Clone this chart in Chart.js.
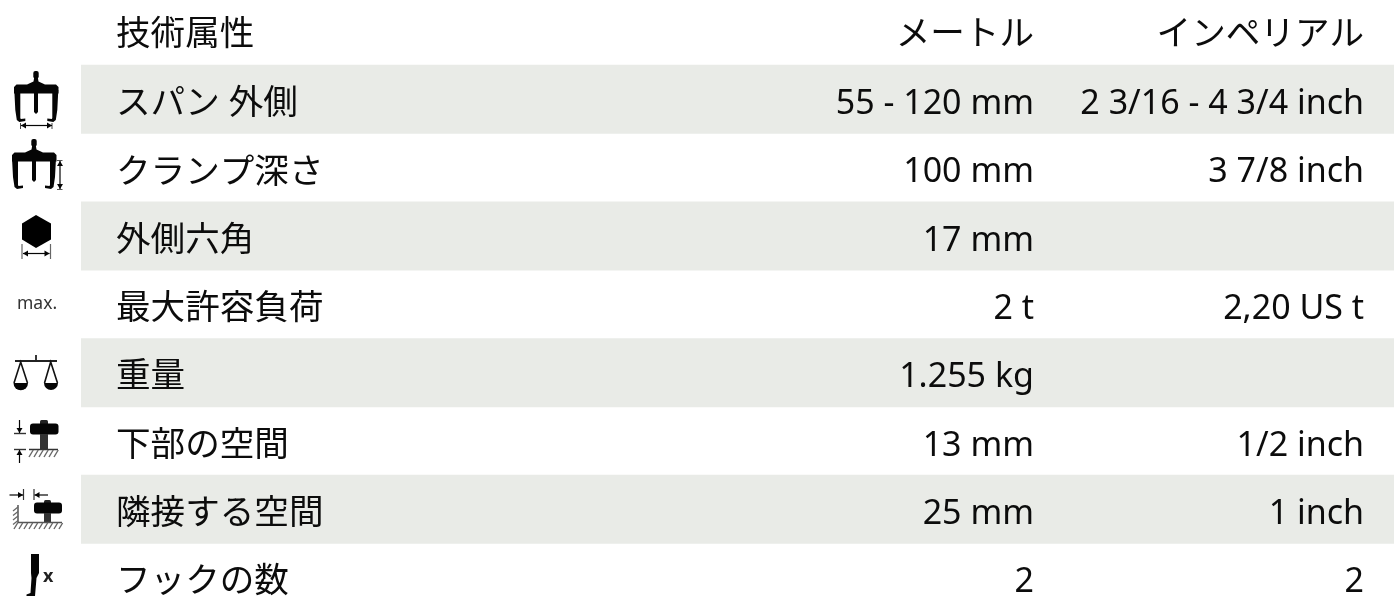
<!DOCTYPE html>
<html>
<head>
<meta charset="utf-8">
<style>
  html, body { margin: 0; background: #fff; overflow: hidden; }
  #wrap { width: 1394px; height: 596px; }
</style>
<script src="https://cdn.jsdelivr.net/npm/chart.js@4"></script>
</head>
<body>
<div id="wrap"><canvas id="table" width="1394" height="596"></canvas></div>
<script>
// header row
const headerName = "技術属性";
const headerMetric = "メートル";
const headerImperial = "インペリアル";

// table rows
const attributes = ["スパン 外側", "クランプ深さ", "外側六角", "最大許容負荷", "重量", "下部の空間", "隣接する空間", "フックの数"];
const metric = ["55 - 120 mm", "100 mm", "17 mm", "2 t", "1.255 kg", "13 mm", "25 mm", "2"];
const imperial = ["2 3/16 - 4 3/4 inch", "3 7/8 inch", "", "2,20 US t", "", "1/2 inch", "1 inch", "2"];

// 1 = shaded row, index 0 is the header
const shaded = [null, 1, null, 1, null, 1, null, 1, null];

const FONT = '"Noto Sans", "Noto Sans CJK JP", sans-serif';
const FONT_SIZE = 34;
// the japanese runs come out a bit wider than the latin ones
const FONT_SIZE_JP = 34.6;
const TEXT_COLOR = "#0c0c0c";
const INK = "#050505";
// text sits a little under the middle of its row
const TEXT_DROP = 5;

function line(ctx, pts, w, color) {
  ctx.beginPath();
  pts.forEach((p, i) => (i ? ctx.lineTo(p[0], p[1]) : ctx.moveTo(p[0], p[1])));
  ctx.lineWidth = w || 1;
  ctx.strokeStyle = color || INK;
  ctx.stroke();
}

function fillPoly(ctx, pts, color) {
  ctx.beginPath();
  pts.forEach((p, i) => (i ? ctx.lineTo(p[0], p[1]) : ctx.moveTo(p[0], p[1])));
  ctx.closePath();
  ctx.fillStyle = color || INK;
  ctx.fill();
}

function roundBox(ctx, x, y, w, h, r, color) {
  ctx.beginPath();
  ctx.roundRect(x, y, w, h, r);
  ctx.fillStyle = color || INK;
  ctx.fill();
}

function arrowH(ctx, x0, x1, y, color) {
  const d = x1 > x0 ? 1 : -1;
  line(ctx, [[x0, y], [x1, y]], 1.2, color);
  fillPoly(ctx, [[x1, y], [x1 - d * 5, y - 3], [x1 - d * 5, y + 3]], color);
}

function arrowV(ctx, x, y0, y1, color) {
  const d = y1 > y0 ? 1 : -1;
  line(ctx, [[x, y0], [x, y1]], 1.2, color);
  fillPoly(ctx, [[x, y1], [x - 3, y1 - d * 5], [x + 3, y1 - d * 5]], color);
}

function hatch(ctx, x0, x1, y, h, color) {
  for (let x = x0; x < x1; x += 5) {
    line(ctx, [[x + h * 0.6, y], [x, y + h]], 1.4, color);
  }
}

// three leg puller body, dx/dy from the first icon
function puller(ctx, dx, dy, legL, legR, legBottom, spindleBottom) {
  ctx.save();
  ctx.translate(dx, dy);
  roundBox(ctx, 33.3, 71, 5.4, 7.5, 2);
  fillPoly(ctx, [[34.3, 77], [37.7, 77], [38.5, 81.5], [45, 84.5], [56, 84.5], [58.5, 87], [58.5, 93.5], [14, 93.5], [14, 87], [16.5, 84.5], [27, 84.5], [33.5, 81.5]]);
  fillPoly(ctx, [[legL, 90], [legL + 6, 90], [legL + 6, legBottom - 4], [legL + 6.5, legBottom - 3], [legL + 11, legBottom - 3.5], [legL + 11, legBottom - 1], [legL + 5, legBottom], [legL + 2.5, legBottom - 2], [legL + 1, legBottom - 12]]);
  fillPoly(ctx, [[legR, 90], [legR - 6, 90], [legR - 6, legBottom - 4], [legR - 6.5, legBottom - 3], [legR - 11, legBottom - 3.5], [legR - 11, legBottom - 1], [legR - 5, legBottom], [legR - 2.5, legBottom - 2], [legR - 1, legBottom - 12]]);
  fillPoly(ctx, [[34, 90], [38, 90], [38, spindleBottom - 2], [36, spindleBottom], [34, spindleBottom - 2]]);
  ctx.restore();
}

function iconSpan(ctx) {
  puller(ctx, 0, 0, 14.3, 58.3, 122, 114);
  line(ctx, [[20.5, 123], [20.5, 129]], 1, "#444");
  line(ctx, [[52, 123], [52, 129]], 1, "#444");
  arrowH(ctx, 36, 21, 125.5);
  arrowH(ctx, 36, 52, 125.5);
}

function iconDepth(ctx) {
  puller(ctx, -2, 68, 14, 58, 121, 114);
  line(ctx, [[57, 160.5], [62.5, 160.5]], 1, "#555");
  line(ctx, [[57, 189.5], [62.5, 189.5]], 1, "#555");
  arrowV(ctx, 60, 175, 161);
  arrowV(ctx, 60, 175, 189);
}

function iconHex(ctx) {
  fillPoly(ctx, [[36, 215], [51, 223.5], [51, 239.5], [36, 248], [22, 239.5], [22, 223.5]], "#000");
  line(ctx, [[22, 244], [22, 259]], 1.2, "#666");
  line(ctx, [[50.5, 244], [50.5, 259]], 1.2, "#666");
  arrowH(ctx, 36, 23, 253.5);
  arrowH(ctx, 36, 49.5, 253.5);
}

function iconMax(ctx) {
  ctx.font = "17.5px " + FONT;
  ctx.fillStyle = "#333";
  ctx.textAlign = "left";
  ctx.textBaseline = "alphabetic";
  ctx.fillText("max.", 17, 309);
}

function iconScale(ctx) {
  line(ctx, [[15, 361], [57, 361]], 2.2, "#222");
  line(ctx, [[36, 355], [36, 362]], 1.8, "#222");
  [[20.7, 13.5, 28], [50.7, 44, 58]].forEach(([apex, l, r]) => {
    line(ctx, [[l + 0.5, 383], [apex, 362], [r - 0.5, 383]], 1.6, "#111");
    ctx.beginPath();
    ctx.moveTo(l, 383);
    ctx.lineTo(r, 383);
    ctx.arc((l + r) / 2, 383, (r - l) / 2, 0, Math.PI);
    ctx.fillStyle = INK;
    ctx.fill();
  });
}

function iconUnder(ctx) {
  roundBox(ctx, 40, 420, 8, 6, 1.5, "#222");
  roundBox(ctx, 30, 423.5, 28.5, 11, 3);
  ctx.fillStyle = "#333";
  ctx.fillRect(40, 434, 8, 15);
  line(ctx, [[29, 449.5], [58, 449.5]], 1.5, "#333");
  hatch(ctx, 29, 56, 450, 7, "#666");
  line(ctx, [[14, 433.5], [26, 433.5]], 1.4, "#333");
  line(ctx, [[14, 449.5], [26, 449.5]], 1.4, "#333");
  arrowV(ctx, 19.5, 420, 433);
  arrowV(ctx, 19.5, 463, 450);
}

function iconSide(ctx) {
  roundBox(ctx, 44, 500, 7, 5, 1.5, "#222");
  roundBox(ctx, 34, 502.5, 28, 11, 3);
  ctx.fillStyle = "#333";
  ctx.fillRect(44, 513, 7, 9);
  line(ctx, [[18, 505], [18, 522.5], [62, 522.5]], 1.5, "#555");
  hatch(ctx, 14, 60, 523, 6, "#666");
  for (let y = 507; y < 522; y += 4.5) {
    line(ctx, [[18, y], [13, y + 4]], 1.3, "#666");
  }
  line(ctx, [[23.5, 489], [23.5, 500]], 1.2, "#333");
  line(ctx, [[34, 489], [34, 500]], 1.2, "#333");
  arrowH(ctx, 9.5, 23, 495);
  arrowH(ctx, 48, 34.5, 495);
}

function iconHook(ctx) {
  fillPoly(ctx, [[31, 554], [39, 554], [39, 573], [36.5, 578], [35, 596], [26.5, 596], [26.5, 594.5], [30.5, 593], [31.5, 578], [31, 573]]);
  ctx.font = "bold 18px " + FONT;
  ctx.fillStyle = "#222";
  ctx.textAlign = "left";
  ctx.textBaseline = "alphabetic";
  ctx.fillText("x", 43, 582);
}

const icons = [iconSpan, iconDepth, iconHex, iconMax, iconScale, iconUnder, iconSide, iconHook];

// columns text and icons, placed with the chart's own scales
const tablePlugin = {
  id: "tableText",
  afterDraw(chart) {
    const { ctx, scales } = chart;
    const xM = scales.x.getPixelForValue(0.7258);
    const xI = scales.x.getPixelForValue(0.9772);
    ctx.save();
    ctx.font = FONT_SIZE_JP + "px " + FONT;
    ctx.fillStyle = TEXT_COLOR;
    ctx.textBaseline = "middle";
    ctx.textAlign = "left";
    const yHead = scales.y.getPixelForValue(0) + 4;
    ctx.fillText(headerName, scales.y.right + 35, yHead);
    ctx.textAlign = "right";
    ctx.fillText(headerMetric, xM, yHead);
    ctx.fillText(headerImperial, xI, yHead);
    ctx.font = FONT_SIZE + "px " + FONT;
    attributes.forEach((_, i) => {
      const y = scales.y.getPixelForValue(i + 1) + TEXT_DROP;
      ctx.fillText(metric[i], xM, y);
      ctx.fillText(imperial[i], xI, y);
    });
    ctx.filter = "blur(0.35px)";
    icons.forEach((draw) => draw(ctx));
    ctx.restore();
  },
};

new Chart(document.getElementById("table"), {
  type: "bar",
  data: {
    datasets: [
      {
        data: shaded.map((v, i) => ({ x: v, y: i })),
        backgroundColor: "#e9ebe7",
        borderWidth: 0,
        barPercentage: 1,
        categoryPercentage: 1,
      },
    ],
  },
  options: {
    indexAxis: "y",
    responsive: false,
    animation: false,
    layout: { padding: { left: 81, right: 0, top: 0, bottom: 0 } },
    plugins: { legend: { display: false }, tooltip: { enabled: false } },
    scales: {
      x: { type: "linear", min: 0, max: 1, display: false },
      y: {
        type: "linear",
        reverse: true,
        min: -0.4537,
        max: 8.269,
        offset: false,
        grid: { display: false, drawTicks: false },
        border: { display: false },
        afterFit: (s) => { s.width = 0; s.paddingTop = 0; s.paddingBottom = 0; },
        afterBuildTicks: (s) => { s.ticks = attributes.map((_, i) => ({ value: i + 1 })); },
        ticks: {
          z: 1,
          mirror: true,
          padding: 35,
          labelOffset: TEXT_DROP,
          autoSkip: false,
          color: TEXT_COLOR,
          font: { family: FONT, size: FONT_SIZE_JP },
          callback: (v) => attributes[v - 1],
        },
      },
    },
  },
  plugins: [tablePlugin],
});
</script>
</body>
</html>
